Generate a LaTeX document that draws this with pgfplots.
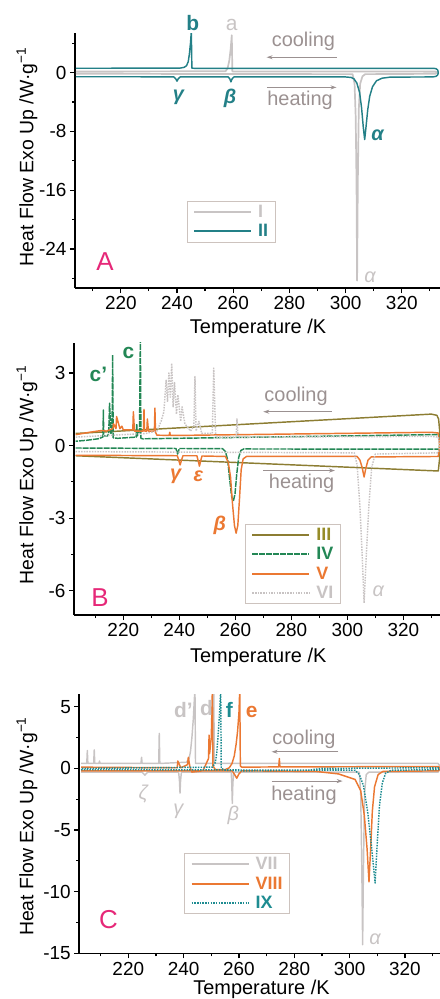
\documentclass[border=0pt]{standalone}
\usepackage{fontspec}
\setmainfont{Liberation Sans}
\usepackage{pgfplots}
\pgfplotsset{compat=1.18}
\usetikzlibrary{arrows.meta}

\definecolor{cI}{RGB}{200,196,196}
\definecolor{cII}{RGB}{35,128,135}
\definecolor{cIII}{RGB}{140,125,50}
\definecolor{cIIIt}{RGB}{150,140,40}
\definecolor{cIV}{RGB}{35,135,85}
\definecolor{cV}{RGB}{235,120,50}
\definecolor{cVI}{RGB}{200,195,195}
\definecolor{cIX}{RGB}{30,140,145}
\definecolor{annot}{RGB}{155,145,145}
\definecolor{pinkA}{RGB}{230,40,120}
\definecolor{legbox}{RGB}{205,195,190}

\pgfplotsset{
  dsc/.style={
    scale only axis,
    axis x line*=bottom, axis y line*=left,
    tick align=outside,
    major tick length=5bp, minor tick length=3bp,
    axis line style={line width=1.6bp},
    every tick/.style={black, line width=1.2bp},
    xtick={220,240,...,320}, minor xtick={210,230,...,330},
    /pgf/number format/assume math mode=true,
    tick label style={font=\fontsize{19}{21}\selectfont},
    xlabel={Temperature /K},
    ylabel={Heat Flow Exo Up /W·g\textsuperscript{−1}},
    xlabel style={font=\fontsize{20}{22}\selectfont, at={(axis description cs:0.5,0)}, anchor=center},
    ylabel style={font=\fontsize{19.5}{21}\selectfont},
    clip mode=individual,
    legend cell align=left,
    legend image code/.code={\draw[##1, line width=2bp] (0bp,0bp) -- (57bp,0bp);},
    legend style={draw=legbox, line width=0.8bp, fill=white,
      inner xsep=6bp, inner ysep=2bp, column sep=5bp, row sep=2.5bp,
      font=\bfseries\fontsize{18}{18}\selectfont, anchor=north west,
      nodes={inner sep=1bp, text height=13bp, text depth=2bp}},
    every axis plot/.append style={line width=1.45bp, line join=round},
  },
}
\tikzset{
  lab/.style={font=\fontsize{20}{20}\selectfont, text=annot},
  arr/.style={annot, line width=1bp, -{Stealth[length=6bp,width=4bp]}},
  gk/.style={font=\bfseries\itshape\fontsize{20}{20}\selectfont},
  gkg/.style={font=\itshape\fontsize{20}{20}\selectfont, text=cI},
  pk/.style={font=\bfseries\fontsize{21}{21}\selectfont},
  panel/.style={font=\fontsize{26}{26}\selectfont, text=pinkA},
}

\begin{document}
\begin{tikzpicture}
\useasboundingbox (0,0) rectangle (440bp,-999bp);

% ---------------- Panel A ----------------
\begin{axis}[dsc,
  at={(75bp,-288bp)}, anchor=south west,
  width=366.1bp, height=255bp,
  xmin=203.7, xmax=334, ymin=-29.3, ymax=5.4,
  ytick={-24,-16,-8,0}, minor ytick={-28,-20,-12,-4,4},
  xlabel style={yshift=-40bp},
  ylabel style={at={(axis description cs:-0.131,0.515)}, anchor=center},
  legend style={at={(axis description cs:0.305,0.341)}},
]
\addplot[cI, line width=1.7bp] coordinates {
(204,-0.15)(302.5,-0.2)(303.2,-1.5)(303.6,-6)(303.9,-15)(304.1,-28.3)(304.35,-15)(304.7,-5)(305.2,-1.5)(306,-0.5)(307,-0.2)(332,-0.15)(332.8,0)(332,0.15)
(260,0.15)(259.7,0.2)(259.5,5.1)(259.1,3.2)(258.6,1.6)(258,0.6)(257.3,0.2)(204,0.15)};
\addlegendentry{\textcolor{cI}{I}}
\addplot[cII] coordinates {
(204,-0.55)(238.8,-0.56)(239.5,-0.8)(240,-1.15)(240.5,-0.8)(241.2,-0.56)
(258.2,-0.56)(258.8,-0.85)(259.2,-1.25)(259.6,-0.85)(260.3,-0.57)
(300,-0.58)(302,-0.65)(303,-0.85)(304,-1.4)(305,-2.7)(305.7,-4.8)(306.3,-7.4)(306.8,-9.1)(307.3,-7.3)(307.9,-5.0)(308.6,-3.2)(309.6,-1.9)(311,-1.1)(313,-0.75)(316,-0.6)
(331,-0.58)(332.2,-0.5)(332.8,-0.3)(333,0)(332.8,0.35)(332.2,0.55)(331,0.6)
(246,0.6)(245.3,0.62)(245.1,5.6)(244.8,4.0)(244.4,2.5)(244,1.5)(243.4,0.95)(242.5,0.72)(241,0.62)(204,0.6)};
\addlegendentry{\textcolor{cII}{II}}
\node[pk, text=cII] at (axis cs:245.6,6.8) {b};
\node[font=\fontsize{21}{21}\selectfont, text=cI] at (axis cs:259.5,6.5) {a};
\node[lab] at (axis cs:285,4.3) {cooling};
\draw[arr] (axis cs:296.8,2.1) -- (axis cs:271.9,2.1);
\node[lab] at (axis cs:283.8,-3.8) {heating};
\draw[arr] (axis cs:272,-2.0) -- (axis cs:296.8,-2.0);
\node[gk, text=cII] at (axis cs:240.5,-3.3) {γ};
\node[gk, text=cII] at (axis cs:258.9,-3.5) {β};
\node[gk, text=cII] at (axis cs:311.4,-8.5) {α};
\node[gkg] at (axis cs:308.7,-27.8) {α};
\node[panel] at (axis cs:214.4,-25.7) {A};
\end{axis}

% ---------------- Panel B ----------------
\begin{axis}[dsc,
  at={(74bp,-615bp)}, anchor=south west,
  width=368.5bp, height=272.3bp,
  xmin=202.4, xmax=334, ymin=-7, ymax=4.25,
  ytick={-6,-3,0,3}, minor ytick={-4.5,-1.5,1.5},
  xlabel style={yshift=-42bp},
  ylabel style={at={(axis description cs:-0.1275,0.515)}, anchor=center},
  legend style={at={(axis description cs:0.464,0.335)}},
]
\addplot[cIII] coordinates {
(203,-0.42)(332.5,-1.05)(333,-0.5)(333,0.6)(332.6,1.1)(332,1.25)(330,1.3)(203,0.5)};
\addlegendentry{\textcolor{cIIIt}{III}}
\addplot[cIV, dash pattern=on 6bp off 1bp] coordinates {
(203,-0.1)(238.8,-0.12)(239.4,-0.35)(240,-0.12)(255.5,-0.13)(256.5,-0.25)(257.3,-0.6)(258,-1.4)(258.7,-2.1)(259.3,-2.3)(259.9,-2.0)(260.5,-1.2)(261.2,-0.5)(262,-0.2)(263,-0.14)(332.8,-0.15)(333.2,0.2)(332.8,0.45)(330,0.45)
(227,0.28)(226.3,0.3)(226.1,4.5)(225.8,0.6)(225,0.4)(224.8,0.9)(224.6,0.35)(218,0.3)(216.4,0.32)(216.2,3.75)(216,0.6)(215.6,0.5)(215.1,1.75)(214.8,0.5)(214.4,0.4)(213,0.4)(212.9,1.47)(212.7,0.35)(211,0.28)(207,0.22)(203,0.18)};
\addlegendentry{\textcolor{cIV}{IV}}
\addplot[cV] coordinates {
(203,-0.4)(239.3,-0.42)(239.8,-0.6)(240.3,-0.8)(240.8,-0.6)(241.3,-0.42)(246.3,-0.42)(246.8,-0.65)(247.2,-0.85)(247.6,-0.65)(248.1,-0.43)
(256.5,-0.45)(257.5,-0.7)(258.3,-1.3)(259,-2.4)(259.7,-3.3)(260.3,-3.62)(260.9,-3.3)(261.5,-2.2)(262.1,-1.0)(262.8,-0.55)(264,-0.45)
(303.5,-0.45)(304.5,-0.6)(305.3,-0.9)(306,-1.3)(306.6,-0.95)(307.4,-0.6)(308.5,-0.47)(332.5,-0.45)(333,0)(332.5,0.52)(330,0.55)
(240,0.42)(236.8,0.42)(236.6,0.55)(236.4,0.42)(232,0.43)(231.5,0.55)(231.3,1.55)(231.1,0.6)(229,0.6)(228.6,1.1)(228.4,0.6)(227.6,0.6)(227.4,1.5)(227.2,0.6)(224,0.6)(223.6,1.4)(223.4,0.65)(220,0.65)(219.5,0.8)(218.8,0.7)(217.6,1.2)(217.4,0.7)(216.5,0.9)(216.3,0.7)(214,0.6)(212,0.62)(208,0.55)(203,0.45)};
\addlegendentry{\textcolor{cV}{V}}
\addplot[cVI, dash pattern=on 1.5bp off 1.2bp] coordinates {
(203,-0.25)(302.5,-0.3)(303.5,-0.8)(304.5,-2.5)(305.3,-4.5)(306,-6.5)(306.8,-4.5)(307.7,-2.5)(308.7,-0.9)(310,-0.35)(332.5,-0.3)(333,0)(332.5,0.35)
(330,0.38)(261,0.35)(260.6,1.1)(260.3,0.35)(253,0.35)(252.3,3.2)(251.8,0.5)(248,0.5)(247,1.0)(246,0.6)(245.6,2.85)(245.2,0.8)(244,0.6)(242,0.9)(241,1.6)(240.5,1.0)(239.5,2.1)(239,1.3)(238.3,2.6)(237.8,1.6)(237.3,3.4)(236.8,2.0)(236.3,3.0)(235.8,1.8)(235.3,2.7)(234.5,1.4)(233.5,1.0)(232,0.6)(228,0.5)(203,0.35)};
\addlegendentry{\textcolor{cVI}{VI}}
\node[pk, text=cIV] at (axis cs:211.1,2.92) {c'};
\node[pk, text=cIV] at (axis cs:221.8,3.82) {c};
\node[lab] at (axis cs:281.7,2.02) {cooling};
\draw[arr] (axis cs:294.4,1.4) -- (axis cs:270,1.4);
\node[lab] at (axis cs:283.7,-1.55) {heating};
\draw[arr] (axis cs:270,-1.03) -- (axis cs:295.6,-1.03);
\node[gk, text=cV] at (axis cs:238.7,-1.28) {γ};
\node[gk, text=cV] at (axis cs:246.8,-1.28) {ε};
\node[gk, text=cV] at (axis cs:254.5,-3.28) {β};
\node[gkg] at (axis cs:311.1,-6.03) {α};
\node[panel] at (axis cs:211.7,-6.3) {B};
\end{axis}

% ---------------- Panel C ----------------
\begin{axis}[dsc,
  at={(79.3bp,-953.3bp)}, anchor=south west,
  width=364.4bp, height=258.9bp,
  xmin=202.3, xmax=334, ymin=-15, ymax=6,
  ytick={-15,-10,-5,0,5}, minor ytick={-12.5,-7.5,-2.5,2.5},
  xlabel style={yshift=-36bp},
  ylabel style={at={(axis description cs:-0.1435,0.49)}, anchor=center},
  legend style={at={(axis description cs:0.288,0.386)}},
]
\addplot[cI] coordinates {
(203,-0.3)(225,-0.3)(225.6,-0.45)(226,-0.55)(226.4,-0.45)(227,-0.3)(238.2,-0.3)(238.5,-1.0)(238.7,-2.0)(238.9,-1.0)(239.2,-0.3)
(257.2,-0.3)(257.4,-1.2)(257.6,-2.84)(257.8,-1.2)(258.1,-0.3)(303.5,-0.3)(304,-2)(304.4,-8)(304.7,-14.3)(305,-8)(305.4,-2)(306,-0.5)(307,-0.3)(332,-0.3)(333,0.05)(332,0.4)
(251.1,0.4)(250.9,6.5)(250.7,0.4)(244.3,0.4)(244.1,6.5)(243.5,4.0)(243,2.5)(242.5,1.4)(242,0.8)(241,0.5)(231.4,0.4)(231.2,2.84)(231,0.4)(225,0.4)(224.8,0.9)(224.6,0.4)(209.8,0.4)(209.6,0.6)(209.4,0.4)(207.9,0.4)(207.7,1.5)(207.5,0.4)(205.4,0.4)(205.2,1.45)(205,0.4)(203,0.4)};
\addlegendentry{\textcolor{cI}{VII}}
\addplot[cV] coordinates {
(203,-0.2)(257.5,-0.2)(258.3,-0.45)(259.2,-0.8)(260,-0.45)(261,-0.2)(288,-0.25)(296,-0.45)(302,-0.9)(304,-1.8)(305.3,-3.8)(306.3,-6.5)(307,-9.2)(307.6,-6.5)(308.2,-3.5)(309,-1.5)(310.3,-0.5)(312,-0.25)(332,-0.2)(333,0)(332,0.15)
(274.8,0.12)(274.6,0.8)(274.4,0.12)(261,0.1)(260.5,0.2)(260.3,6.5)(260,4.5)(259.5,3.0)(259,2.0)(258.3,1.0)(257.5,0.4)(256.5,0.05)(255,-0.1)(251.5,-0.1)(250.6,0.2)(250.4,6.5)(250,2.5)(249.4,1.2)(249.2,2.7)(249,0.8)(248,0.3)(247,-0.2)(243,-0.3)(242.3,0.1)(241.7,0.9)(241.4,0.3)(239,0.05)(237.9,0.6)(237.7,0.05)(203,0.1)};
\addlegendentry{\textcolor{cV}{VIII}}
\addplot[cIX, dash pattern=on 1.5bp off 1.2bp] coordinates {
(203,-0.1)(302,-0.15)(303.5,-0.5)(305,-1.4)(306.5,-3.5)(308,-6.5)(309.2,-9.3)(310,-6)(310.8,-3)(311.8,-1.2)(313,-0.4)(315,-0.15)(332,-0.1)(333,0)(332,0.05)
(290,0.0)(285,-0.15)(262,-0.2)(255,-0.15)(253.6,0.0)(253.4,6.5)(253,4.5)(252.5,2.8)(252,1.3)(251.5,0.5)(250.5,0.1)(203,0.0)};
\addlegendentry{\textcolor{cIX}{IX}}
\node[pk, text=cI] at (axis cs:239.9,4.73) {d'};
\node[pk, text=cI] at (axis cs:248.3,4.87) {d};
\node[pk, text=cIX] at (axis cs:256.5,4.73) {f};
\node[pk, text=cV] at (axis cs:264.6,4.59) {e};
\node[lab] at (axis cs:283.5,2.35) {cooling};
\draw[arr] (axis cs:295.9,1.35) -- (axis cs:271.8,1.35);
\node[lab] at (axis cs:283.5,-2.17) {heating};
\draw[arr] (axis cs:271.8,-1.03) -- (axis cs:297.5,-1.03);
\node[gkg] at (axis cs:225.4,-2.08) {ζ};
\node[gkg] at (axis cs:238.1,-3.52) {γ};
\node[gkg] at (axis cs:258,-3.79) {β};
\node[gkg] at (axis cs:309.2,-13.87) {α};
\node[panel] at (axis cs:212.8,-12.3) {C};
\end{axis}
\end{tikzpicture}
\end{document}
